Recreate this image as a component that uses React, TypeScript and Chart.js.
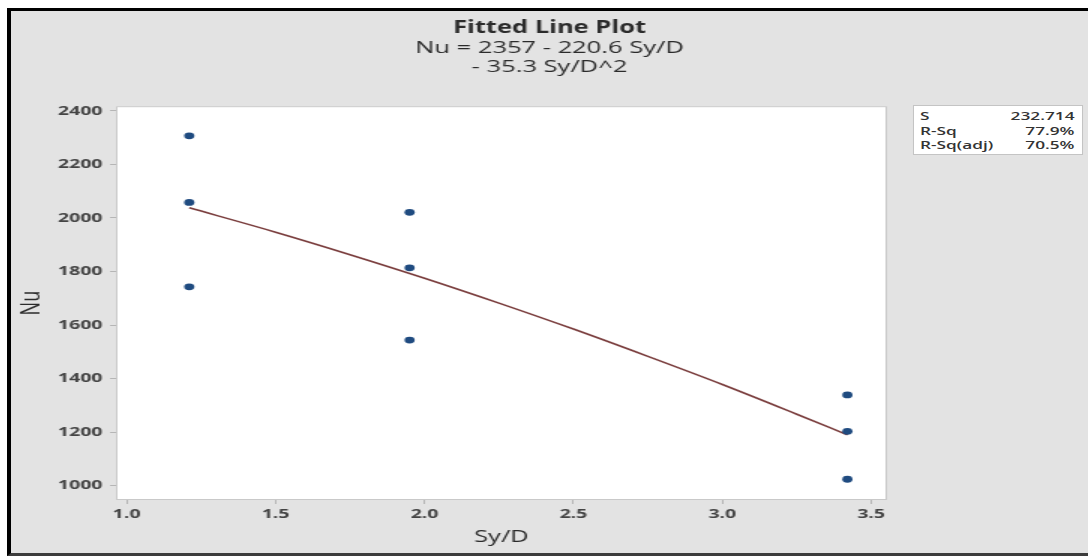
import React, { useEffect, useRef } from 'react';
import { Chart, registerables } from 'chart.js';

Chart.register(...registerables);

// ---- data ----
const syD = [1.21, 1.21, 1.21, 1.95, 1.95, 1.95, 3.42, 3.42, 3.42];
const nu = [2307, 2058, 1743, 2021, 1814, 1544, 1339, 1203, 1024];
const fitSyD = [1.21, 1.5, 1.75, 2.0, 2.25, 2.5, 2.75, 3.0, 3.25, 3.42];
const fitNu = [2038, 1947, 1863, 1775, 1682, 1585, 1483, 1378, 1267, 1190];
const xTicks = [1.0, 1.5, 2.0, 2.5, 3.0, 3.5];
const yTicks = [1000, 1200, 1400, 1600, 1800, 2000, 2200, 2400];
const titleText = 'Fitted Line Plot';
const equationLines = ['Nu = 2357 - 220.6 Sy/D', '- 35.3 Sy/D^2'];
const statLabels = ['S', 'R-Sq', 'R-Sq(adj)'];
const statValues = ['232.714', '77.9%', '70.5%'];

const FONT = "'Open Sans', 'Noto Sans', sans-serif";
const STRETCH = 1.5;
const CW = 718;
const CH = 542;

const plotFrame = {
  id: 'plotFrame',
  beforeDraw(chart: any) {
    const { ctx, chartArea: a } = chart;
    ctx.save();
    ctx.fillStyle = '#ffffff';
    ctx.fillRect(a.left, a.top, a.right - a.left, a.bottom - a.top);
    ctx.strokeStyle = '#c9c9c9';
    ctx.lineWidth = 1;
    ctx.strokeRect(a.left + 0.5, a.top + 0.5, a.right - a.left - 1, a.bottom - a.top - 1);
    ctx.restore();
  },
};

export default function App() {
  const ref = useRef<HTMLCanvasElement | null>(null);

  useEffect(() => {
    if (!ref.current) return;
    const tickFont = { family: FONT, size: 13, weight: 'bold' as const };
    const chart = new Chart(ref.current, {
      type: 'scatter',
      data: {
        datasets: [
          {
            label: 'Data',
            data: syD.map((x, i) => ({ x, y: nu[i] })),
            backgroundColor: '#1f4b80',
            borderWidth: 0,
            pointRadius: 3.4,
            pointHoverRadius: 3.4,
            order: 0,
          },
          {
            type: 'line',
            label: 'Fit',
            data: fitSyD.map((x, i) => ({ x, y: fitNu[i] })),
            borderColor: '#7a3d3d',
            borderWidth: 1.6,
            pointRadius: 0,
            showLine: true,
            fill: false,
            cubicInterpolationMode: 'monotone',
            order: 1,
          } as any,
        ],
      },
      options: {
        animation: false,
        responsive: false,
        devicePixelRatio: 1,
        layout: { padding: 0 },
        plugins: {
          legend: { display: false },
          tooltip: { enabled: false },
          title: {
            display: true,
            text: titleText,
            color: '#2b2b2b',
            font: { family: FONT, size: 17, weight: 'bold', lineHeight: 1.2 },
            padding: { top: 6.8, bottom: 0 },
          },
          subtitle: {
            display: true,
            text: equationLines,
            color: '#2b2b2b',
            font: { family: FONT, size: 17, weight: 'normal', lineHeight: 1.1176 },
            padding: { top: 0, bottom: 30 },
          },
        },
        scales: {
          x: {
            type: 'linear',
            position: 'bottom',
            min: 0.964,
            max: 3.553,
            afterBuildTicks: (s: any) => {
              s.ticks = xTicks.map((v) => ({ value: v }));
            },
            afterFit: (s: any) => {
              s.height = 53;
            },
            ticks: {
              font: tickFont,
              color: '#444444',
              padding: 2,
              callback: (v: any) => Number(v).toFixed(1),
            },
            grid: { display: true, drawOnChartArea: false, drawTicks: true, tickLength: 4, color: '#b5b5b5' },
            border: { display: false },
            title: {
              display: true,
              text: 'Sy/D',
              color: '#2b2b2b',
              font: { family: FONT, size: 17, lineHeight: 1.2 },
              padding: { top: 0, bottom: 6 },
            },
          },
          y: {
            type: 'linear',
            position: 'left',
            min: 946.5,
            max: 2417.6,
            afterBuildTicks: (s: any) => {
              s.ticks = yTicks.map((v) => ({ value: v }));
            },
            afterFit: (s: any) => {
              s.width = 70;
            },
            ticks: {
              font: tickFont,
              color: '#444444',
              padding: 5,
              callback: (v: any) => String(Math.round(Number(v))),
            },
            grid: { display: true, drawOnChartArea: false, drawTicks: true, tickLength: 4, color: '#b5b5b5' },
            border: { display: false },
            title: {
              display: true,
              text: 'Nu',
              color: '#2b2b2b',
              font: { family: FONT, size: 18, lineHeight: 1.2 },
              padding: { top: 3.5, bottom: 0 },
            },
          },
          side: {
            type: 'linear',
            position: 'right',
            display: true,
            ticks: { display: false },
            grid: { display: false },
            border: { display: false },
            afterFit: (s: any) => {
              s.width = 134;
            },
          },
        },
      } as any,
      plugins: [plotFrame],
    });
    return () => chart.destroy();
  }, []);

  return (
    <div style={{ position: 'fixed', left: 0, top: 0, width: 1088, height: 556, background: '#ffffff', overflow: 'hidden' }}>
      <div
        style={{
          position: 'absolute',
          left: 7,
          top: 8,
          width: 1081,
          height: 548,
          boxSizing: 'border-box',
          borderTop: '3px solid #000',
          borderLeft: '4px solid #000',
          borderBottom: '3px solid #3c3c3c',
          background: '#e3e3e3',
        }}
      >
        <div
          style={{
            position: 'absolute',
            left: 0,
            top: 0,
            width: CW,
            height: CH,
            transform: `scaleX(${STRETCH})`,
            transformOrigin: '0 0',
          }}
        >
          <canvas ref={ref} width={CW} height={CH} style={{ display: 'block' }} />
          <div
            style={{
              position: 'absolute',
              left: 601,
              top: 94,
              width: 114,
              height: 50,
              boxSizing: 'border-box',
              border: '1px solid #c4c4c4',
              background: '#ffffff',
              padding: '3px 5px 0 4px',
              fontFamily: FONT,
              fontSize: 11.5,
              fontWeight: 600,
              color: '#333',
              lineHeight: '14.5px',
            }}
          >
            {statLabels.map((lab, i) => (
              <div key={lab} style={{ display: 'flex', justifyContent: 'space-between' }}>
                <span>{lab}</span>
                <span>{statValues[i]}</span>
              </div>
            ))}
          </div>
        </div>
      </div>
    </div>
  );
}
